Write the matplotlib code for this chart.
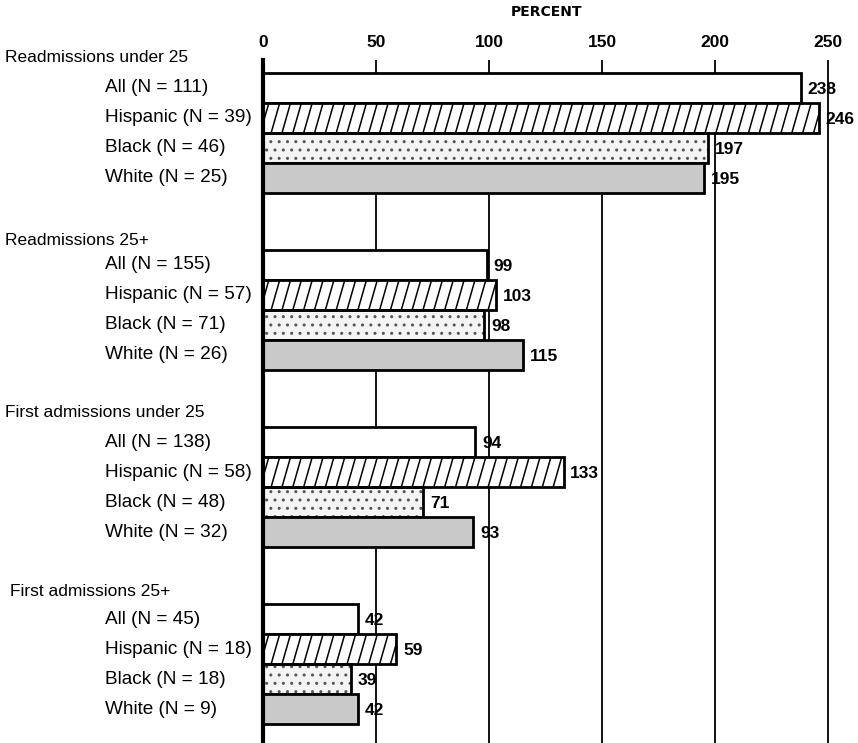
import matplotlib
matplotlib.use("Agg")
import matplotlib.pyplot as plt
import matplotlib.transforms as mtransforms
from matplotlib.collections import LineCollection
import numpy as np

plt.rcParams['font.family'] = ['Liberation Sans', 'DejaVu Sans']
plt.rcParams['hatch.linewidth'] = 1.0

groups = ["Readmissions under 25", "Readmissions 25+",
          "First admissions under 25", "First admissions 25+"]
subgroups = ["All", "Hispanic", "Black", "White"]
n_values = [[111, 39, 46, 25],
            [155, 57, 71, 26],
            [138, 58, 48, 32],
            [45, 18, 18, 9]]
percent = [[238, 246, 197, 195],
           [99, 103, 98, 115],
           [94, 133, 71, 93],
           [42, 59, 39, 42]]
xticks = [0, 50, 100, 150, 200, 250]

W, H = 858, 743
PX = 2.26
XMAX = 255
fig = plt.figure(figsize=(W / 100, H / 100), dpi=100)
ax = fig.add_axes([263 / W, 0, XMAX * PX / W, 1 - 60 / H])

stride = 5.9
ax.set_xlim(0, XMAX)
ax.set_ylim(21.83, -0.93)

for xv in xticks[1:]:
    ax.axvline(xv, color='black', lw=1.3, zorder=0)

facecolors = ['white', 'white', '#f4f4f4', '#c9c9c9']

blend = mtransforms.blended_transform_factory(fig.transFigure, ax.transData)
header_off = [-1.0, -0.83, -1.0, -0.93]
header_x = [5, 5, 5, 10]

for g, gname in enumerate(groups):
    base = g * stride
    ys = [base + i for i in range(4)]
    # stipple overlay for Black bars
    ax.barh(ys[2], percent[g][2], height=1.0, left=0, facecolor=facecolors[2],
            edgecolor='#555555', hatch='..', linewidth=0, zorder=1.5)
    bars = ax.barh(ys, percent[g], height=1.0, left=0, edgecolor='black',
                   linewidth=2, zorder=2)
    for i, b in enumerate(bars):
        if i == 2:
            b.set_facecolor('none')
        else:
            b.set_facecolor(facecolors[i])
        if i == 1:
            y0 = ys[i] + 0.5
            y1 = ys[i] - 0.5
            segs = []
            for x0 in np.arange(-6, 260, 4.8):
                segs.append([(x0, y0), (x0 + 3.8, y1)])
            lc = LineCollection(segs, colors='black', linewidths=1.1, zorder=3)
            ax.add_collection(lc)
            lc.set_clip_path(b)
        ax.text(percent[g][i] + 3.0, ys[i] + 0.05, str(percent[g][i]),
                fontsize=12.5, fontweight='bold', va='center', ha='left', zorder=4)
        fig.text(105 / W, ys[i], f"{subgroups[i]} (N = {n_values[g][i]})",
                 transform=blend, fontsize=13.7, va='center', ha='left')
    fig.text(header_x[g] / W, base + header_off[g], gname, transform=blend,
             fontsize=12.5, va='center', ha='left')

ax.spines['top'].set_visible(False)
ax.spines['right'].set_visible(False)
ax.spines['bottom'].set_visible(False)
ax.spines['left'].set_linewidth(3)
ax.spines['left'].set_zorder(5)
ax.set_yticks([])
ax.xaxis.tick_top()
ax.set_xticks(xticks)
ax.set_xticklabels([str(v) for v in xticks], fontsize=12.5, fontweight='bold')
ax.tick_params(axis='x', length=0, pad=7.5)

fig.text(547 / W, 1 - 12 / H, "PERCENT", fontsize=10, fontweight='bold',
         family=['DejaVu Sans'], ha='center', va='center')

fig.savefig("out.png", dpi=100)
